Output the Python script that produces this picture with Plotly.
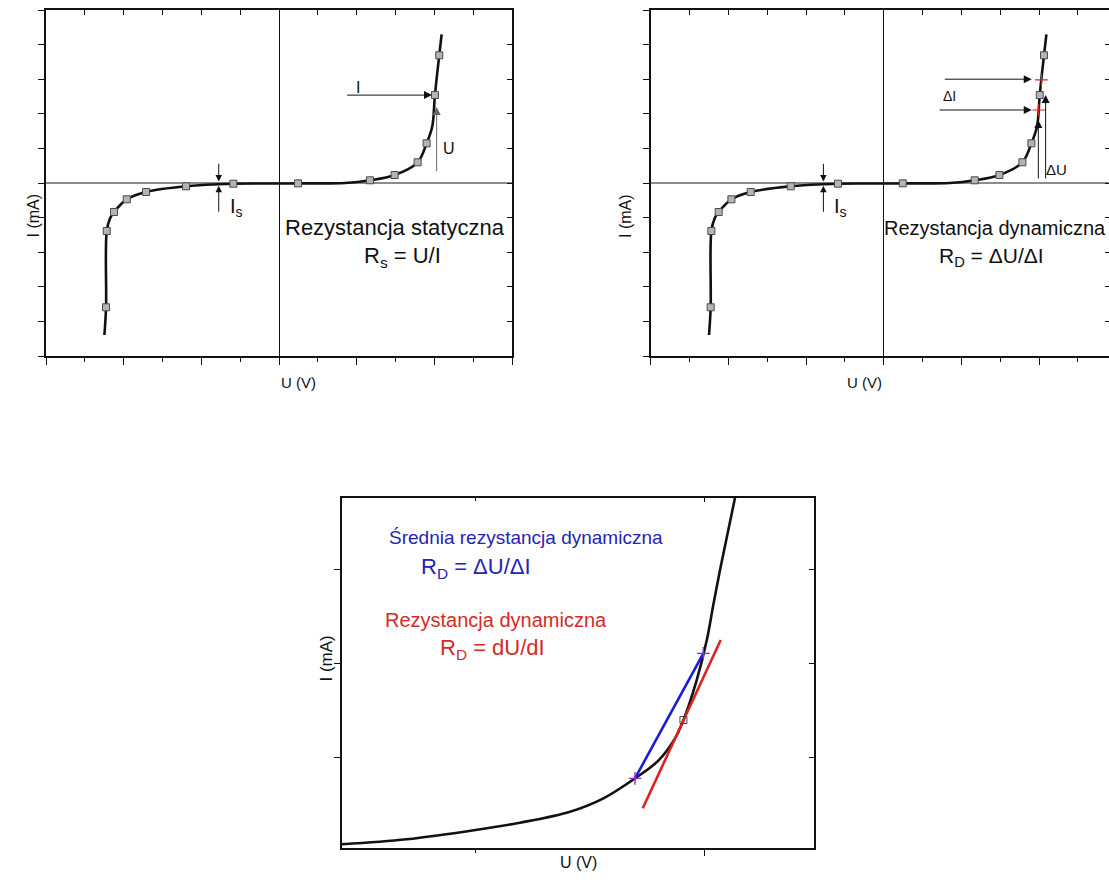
import plotly.graph_objects as go

W, H = 1109, 882
FONT = "Liberation Sans, Arial, sans-serif"

# ---------------- data (arbitrary units) ----------------
# Diode I-U characteristic used in both top panels
curve_u = [-2.248, -2.227, -2.218, -2.175, -2.124, -1.960, -1.712, -1.197, -0.588,
           0.0, 0.245, 0.85, 1.171, 1.489, 1.785, 1.901, 1.973, 2.008, 2.063, 2.094]
curve_i = [-4.393, -3.592, -1.387, -1.020, -0.838, -0.471, -0.260, -0.095, -0.020,
           -0.015, -0.010, 0.0, 0.078, 0.231, 0.598, 1.147, 1.63, 2.543, 3.691, 4.298]
marker_u = [-2.227, -2.218, -2.124, -1.960, -1.712, -1.197, -0.588, 0.245,
            1.171, 1.489, 1.785, 1.901, 2.008, 2.063]
marker_i = [-3.592, -1.387, -0.838, -0.471, -0.260, -0.095, -0.020, -0.010,
            0.078, 0.231, 0.598, 1.147, 2.543, 3.691]
# Delta-I points (red crosses) in the dynamic-resistance panel
delta_u = [2.03, 1.995]
delta_i = [2.98, 2.11]

# Bottom panel: forward branch (zoomed)
zoom_u = [0.415, 0.699, 1.0, 1.195, 1.414, 1.56, 1.698, 1.80, 1.873, 1.91,
          1.968, 2.012, 2.041, 2.07, 2.136]
zoom_i = [0.081, 0.134, 0.233, 0.311, 0.428, 0.57, 0.782, 0.97, 1.207, 1.402,
          1.827, 2.25, 2.63, 2.996, 3.77]
chord_u = [1.698, 1.997]
chord_i = [0.782, 2.11]
tangent_u = [1.732, 2.073]
tangent_i = [0.464, 2.252]
point_u = [1.91]
point_i = [1.402]

# ---------------- figure ----------------
fig = go.Figure()

def curve_traces(xa, ya):
    fig.add_trace(go.Scatter(x=curve_u, y=curve_i, mode="lines", xaxis=xa, yaxis=ya,
                             line=dict(color="#111111", width=2.6, shape="spline", smoothing=1.0),
                             showlegend=False, hoverinfo="skip"))
    fig.add_trace(go.Scatter(x=marker_u, y=marker_i, mode="markers", xaxis=xa, yaxis=ya,
                             marker=dict(symbol="square", size=7, color="#b4b4b4",
                                         line=dict(color="#4a4a4a", width=1)),
                             showlegend=False, hoverinfo="skip"))

curve_traces("x", "y")
curve_traces("x3", "y3")
fig.add_trace(go.Scatter(x=delta_u, y=delta_i, mode="markers", xaxis="x3", yaxis="y3",
                         marker=dict(symbol="cross-thin", size=9, color="#e02020",
                                     line=dict(color="#e02020", width=1.2)),
                         showlegend=False, hoverinfo="skip"))

# bottom panel
fig.add_trace(go.Scatter(x=zoom_u, y=zoom_i, mode="lines", xaxis="x5", yaxis="y5",
                         line=dict(color="#111111", width=2.6, shape="spline", smoothing=1.0),
                         showlegend=False, hoverinfo="skip"))
fig.add_trace(go.Scatter(x=tangent_u, y=tangent_i, mode="lines", xaxis="x5", yaxis="y5",
                         line=dict(color="#dd2222", width=2.6),
                         showlegend=False, hoverinfo="skip"))
fig.add_trace(go.Scatter(x=chord_u, y=chord_i, mode="lines+markers", xaxis="x5", yaxis="y5",
                         line=dict(color="#1a1ad8", width=2.6),
                         marker=dict(symbol="cross-thin", size=9, color="#8a30c0",
                                     line=dict(color="#8a30c0", width=1.4)),
                         showlegend=False, hoverinfo="skip"))
fig.add_trace(go.Scatter(x=point_u, y=point_i, mode="markers", xaxis="x5", yaxis="y5",
                         marker=dict(symbol="square-open", size=7, color="#444444",
                                     line=dict(color="#444444", width=1)),
                         showlegend=False, hoverinfo="skip"))

# dummy traces so overlay axes get their subplots
for xa, ya in [("x2", "y"), ("x", "y2"), ("x4", "y3"), ("x3", "y4"), ("x6", "y5"), ("x5", "y6")]:
    fig.add_trace(go.Scatter(x=[None], y=[None], xaxis=xa, yaxis=ya, showlegend=False, hoverinfo="skip"))

# ---------------- axes ----------------
top_dom = [(H - 356) / H, (H - 10) / H]
bot_dom = [(H - 847.7) / H, (H - 497.7) / H]
common = dict(showgrid=False, showticklabels=False, linecolor="#111111", linewidth=1.5,
              tickcolor="#111111", tickwidth=1.2)

def xmain(dom, rng, anchor, **kw):
    d = dict(common, domain=dom, range=rng, anchor=anchor, showline=True, ticks="outside",
             ticklen=7, tick0=0, dtick=1, zeroline=True, zerolinecolor="#111111", zerolinewidth=1.4,
             minor=dict(ticks="outside", ticklen=4, tick0=0, dtick=0.5, showgrid=False, tickcolor="#111111"))
    d.update(kw)
    return d

def ymain(dom, rng, anchor, **kw):
    d = dict(common, domain=dom, range=rng, anchor=anchor, showline=True, ticks="outside",
             ticklen=6, tick0=0, dtick=1, zeroline=True, zerolinecolor="#8c8c8c", zerolinewidth=1.6)
    d.update(kw)
    return d

def xtop(over, rng, anchor, **kw):
    d = dict(common, overlaying=over, side="top", range=rng, anchor=anchor, showline=True,
             ticks="inside", ticklen=5, tick0=0, dtick=1, zeroline=False,
             minor=dict(ticks="inside", ticklen=5, tick0=0, dtick=0.5, showgrid=False, tickcolor="#111111"))
    d.update(kw)
    return d

def yright(over, rng, anchor, **kw):
    d = dict(common, overlaying=over, side="right", range=rng, anchor=anchor, showline=True,
             ticks="inside", ticklen=5, tick0=0, dtick=1, zeroline=False)
    d.update(kw)
    return d

xr_a = [-3, 3]
xr_b = [-3, (W - 883.7) / 77.7]
yr_top = [-5, 5]
xr_c = [0.416, 2.479]
yr_c = [0.045, 3.765]

fig.update_layout(
    xaxis=xmain([46 / W, 512 / W], xr_a, "y"),
    yaxis=ymain(top_dom, yr_top, "x"),
    xaxis2=xtop("x", xr_a, "y"),
    yaxis2=yright("y", yr_top, "x"),
    xaxis3=xmain([650.6 / W, 1.0], xr_b, "y3"),
    yaxis3=ymain(top_dom, yr_top, "x3"),
    xaxis4=xtop("x3", xr_b, "y3"),
    yaxis4=yright("y3", yr_top, "x3", showline=False, ticklen=4),
    xaxis5=xmain([342 / W, 813.5 / W], xr_c, "y5", zeroline=False, tickmode="array", tickvals=[2],
                 minor=dict(ticks="outside", ticklen=4, tickmode="array", tickvals=[1], showgrid=False,
                            tickcolor="#111111")),
    yaxis5=ymain(bot_dom, yr_c, "x5", zeroline=False, tickmode="array", tickvals=[1, 2, 3]),
    xaxis6=xtop("x5", xr_c, "y5", tickmode="array", tickvals=[2],
                minor=dict(ticks="inside", ticklen=4, tickmode="array", tickvals=[1], showgrid=False,
                           tickcolor="#111111")),
    yaxis6=yright("y5", yr_c, "x5", tickmode="array", tickvals=[1, 2, 3]),
)

# ---------------- annotations ----------------
ann = []

def text(x, y, t, size, xref, yref, color="#111111", **kw):
    d = dict(x=x, y=y, text=t, xref=xref, yref=yref, showarrow=False,
             font=dict(family=FONT, size=size, color=color))
    d.update(kw)
    ann.append(d)

def arrow(xh, yh, xt, yt, xref, yref, color="#111111", size=1.6, width=1.0):
    ann.append(dict(x=xh, y=yh, ax=xt, ay=yt, xref=xref, yref=yref, axref=xref, ayref=yref,
                    text="", showarrow=True, arrowhead=2, arrowsize=size, arrowwidth=width,
                    arrowcolor=color, standoff=0, startstandoff=0))

# axis titles
for (px, py, s) in [(22, 192, 16), (625, 192, 16), (314, 684, 17)]:
    text(px / W, (H - py) / H, "I (mA)", s, "paper", "paper", textangle=-90)
for (px, py, s) in [(279, 383, 15), (884, 383, 15), (578.3, 873, 16)]:
    text(px / W, (H - py) / H, "U (V)", s, "paper", "paper")

# panel A: static resistance
arrow(1.97, 2.54, 0.858, 2.54, "x", "y")
text(1.02, 2.77, "I", 16, "x", "y")
arrow(2.03, 2.2, 2.03, 0.3, "x", "y", color="#666666")
text(2.19, 1.0, "U", 16, "x", "y")
arrow(-0.776, 0.04, -0.776, 0.6, "x", "y", size=1.3)
arrow(-0.776, -0.078, -0.776, -0.876, "x", "y", size=1.3)
text(-0.66, -0.72, "I<sub>s</sub>", 20, "x", "y", xanchor="left")
text(1.496, -1.29, "Rezystancja statyczna", 22, "x", "y")
text(1.593, -2.13, "R<sub>s</sub> = U/I", 22, "x", "y")

# panel B: dynamic resistance
arrow(1.905, 3.0, 0.767, 3.0, "x3", "y3")
arrow(1.905, 2.11, 0.70, 2.11, "x3", "y3")
text(0.85, 2.52, "ΔI", 14, "x3", "y3")
arrow(1.99, 1.82, 1.99, 0.087, "x3", "y3")
arrow(2.084, 2.54, 2.084, 0.087, "x3", "y3")
text(2.23, 0.39, "ΔU", 15, "x3", "y3")
arrow(-0.776, 0.04, -0.776, 0.6, "x3", "y3", size=1.3)
arrow(-0.776, -0.078, -0.776, -0.876, "x3", "y3", size=1.3)
text(-0.66, -0.72, "I<sub>s</sub>", 20, "x3", "y3", xanchor="left")
text(1.436, -1.29, "Rezystancja dynamiczna", 20, "x3", "y3")
text(1.39, -2.13, "R<sub>D</sub> = ΔU/ΔI", 21, "x3", "y3")

# panel C
BLUE = "#2424b4"
RED = "#d42a2a"
text(1.220, 3.344, "Średnia rezystancja dynamiczna", 19, "x5", "y5", color=BLUE)
text(1.003, 3.017, "R<sub>D</sub> = ΔU/ΔI", 22, "x5", "y5", color=BLUE)
text(1.091, 2.465, "Rezystancja dynamiczna", 20, "x5", "y5", color=RED)
text(1.076, 2.157, "R<sub>D</sub> = dU/dI", 22, "x5", "y5", color=RED)

fig.update_layout(
    annotations=ann,
    width=W, height=H,
    margin=dict(l=0, r=0, t=0, b=0),
    paper_bgcolor="white", plot_bgcolor="white",
    font=dict(family=FONT, color="#111111"),
    showlegend=False,
)

fig.write_html("out.html", config={"displayModeBar": False})
